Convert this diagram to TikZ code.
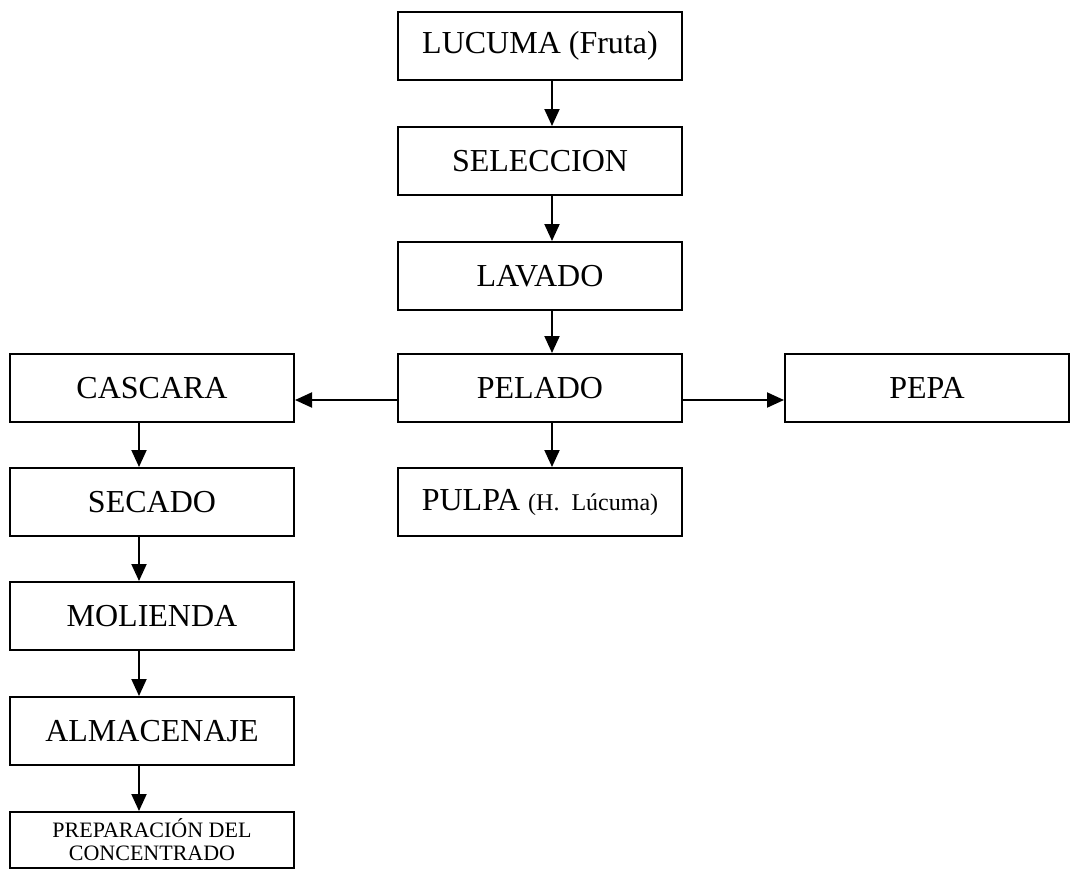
\documentclass[tikz,border=0pt]{standalone}
\usepackage{fontspec}
\setmainfont{Liberation Serif}
\usetikzlibrary{arrows.meta}
\begin{document}
\begin{tikzpicture}[x=1pt,y=-1pt,
  box/.style={draw,line width=2pt,minimum width=284pt,minimum height=68pt,inner sep=0pt,font=\fontsize{32}{36}\selectfont},
  arr/.style={line width=2pt,-{Triangle[length=17pt,width=15pt]}}]
\useasboundingbox (0,0) rectangle (1079,879);
\node[box] (lucuma) at (540,46) {LUCUMA (Fruta)};
\node[box] (sel) at (540,161) {SELECCION};
\node[box] (lav) at (540,276) {LAVADO};
\node[box] (pel) at (540,388) {PELADO};
\node[box] (pulpa) at (540,502) {PULPA {\fontsize{24}{28}\selectfont(H.\ \ Lúcuma)}};
\node[box] (pepa) at (927,388) {PEPA};
\node[box] (casc) at (152,388) {CASCARA};
\node[box] (sec) at (152,502) {SECADO};
\node[box] (mol) at (152,616) {MOLIENDA};
\node[box] (alm) at (152,731) {ALMACENAJE};
\node[box,minimum height=56pt,align=center,font=\fontsize{22}{23}\selectfont] (prep) at (152,840) {PREPARACIÓN DEL\\CONCENTRADO};
\draw[arr] ([xshift=12pt]lucuma.south) -- ([xshift=12pt]sel.north);
\draw[arr] ([xshift=12pt]sel.south) -- ([xshift=12pt]lav.north);
\draw[arr] ([xshift=12pt]lav.south) -- ([xshift=12pt]pel.north);
\draw[arr] ([xshift=12pt]pel.south) -- ([xshift=12pt]pulpa.north);
\draw[arr] ([yshift=-12pt]pel.west) -- ([yshift=-12pt]casc.east);
\draw[arr] ([yshift=-12pt]pel.east) -- ([yshift=-12pt]pepa.east -| pepa.west);
\draw[arr] ([xshift=-13pt]casc.south) -- ([xshift=-13pt]sec.north);
\draw[arr] ([xshift=-13pt]sec.south) -- ([xshift=-13pt]mol.north);
\draw[arr] ([xshift=-13pt]mol.south) -- ([xshift=-13pt]alm.north);
\draw[arr] ([xshift=-13pt]alm.south) -- ([xshift=-13pt]prep.north);
\end{tikzpicture}
\end{document}
